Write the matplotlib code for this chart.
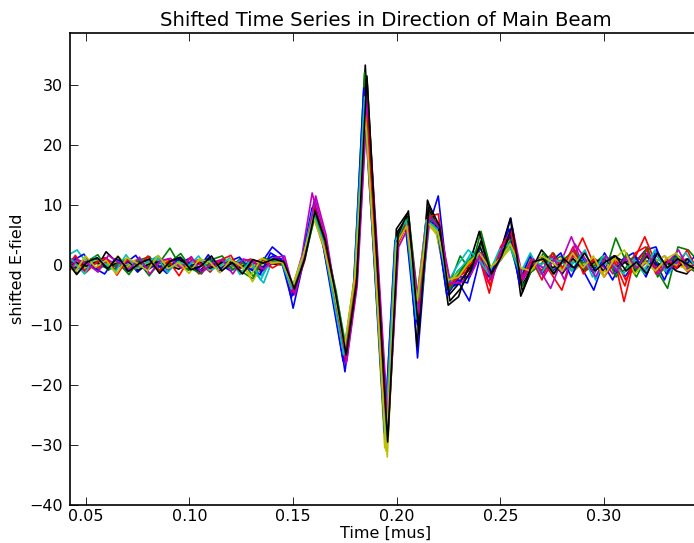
import numpy as np
import matplotlib
matplotlib.use("Agg")
import matplotlib.pyplot as plt

# sample times (mus), one sample every 0.005
t_start = 0.040
dt = 0.005

# small per-series time shift after alignment (mus)
shifts = [0.0, 0.0006, -0.0004, 0.0008, -0.0008, 0.0004, -0.0002,
          0.0002, -0.0006, 0.0004, -0.0004, 0.0006, -0.0008, 0.0002,
          -0.0009, 0.0008, 0.0, -0.0006, 0.0009, -0.0002, 0.0006]

colors = ["b", "g", "r", "c", "m", "y", "k"] * 3

# each series: early noise (0.040-0.140), pulse (0.145-0.260), tail (0.265-0.350)
s0 = [0.5, 1.2, -0.8, 0.3, 1.0, -0.5, 0.8, -1.2, 0.4, 1.5, -0.6, 0.2, 1.1, -0.9, 0.6, 0.0, -1.0, 0.8, -0.4, 0.5, 3.0,
      1.5, -7.2, 0.5, 10.5, 4.5, -6, -17.8, -4, 30, 1, -29, 3.5, 8, -15.5, 6, 11.5, -4, -3, -6, 1, -2, 2, 7.8, -3,
      0.5, -1.5, 1.0, -0.5, 2.0, -1.0, -4.2, 0.8, 1.5, -2.0, 0.5, 2.5, 3.0, -1.5, 0.5, 1.0, -0.8, 0.3]
s1 = [-0.5, 0.3, 1.0, -0.8, 0.2, 0.9, -0.3, 0.5, -1.8, 0.4, 2.8, -0.2, -0.8, 0.6, -0.5, 0.9, 0.2, -1.2, -2.3, 0.4, 1.2,
      0.5, -4, 1.5, 9, 3.5, -5, -16, -3, 31, 0, -28, 4, 7, -8, 8, 5, -3, 1.5, -1, 5.6, -1, 1, 4, -2,
      -1, 0.5, 2, -1, 0.5, 1, -0.5, -1, 4.5, 0.5, -2.0, 1.5, -1.0, -3.9, 3.0, 2.5, 0.5, -1.0]
s2 = [0.8, -0.4, 0.6, 1.2, -0.3, 0.4, -0.9, 0.7, 0.2, -0.6, 1.0, -0.3, 0.5, -1.5, 0.3, 0.8, -0.5, 0.4, 1.0, -0.8, 0.5,
      0.5, -5, 0, 8.5, 3, -6, -15, -2, 27, -1, -27, 3, 6.5, -7, 9, 6.5, -2.5, -2, 0.5, 1.5, -4.7, 2.5, 5, -1.5,
      -0.5, 1, -1.5, -4.2, 1, 4.5, 0.5, -1, 1.5, -6.1, 1, 4.7, 0.5, -1, 1.5, -0.5, 0.3, -1]
s3 = [1.5, 2.5, 0.2, -0.5, 0.8, 0.1, -0.7, 1.0, 0.3, -0.4, 0.6, 1.2, -0.5, 0.4, -0.2, 0.7, -0.9, 0.5, -1.0, -3.0, 1.5,
      0, -4, 1, 9, 4, -5, -14, -3, 28, 0, -28, 4.5, 8, -9, 7, 5, -3, -1, 2, 2.5, -2, 1.5, 3.5, -2,
      1, -0.5, 1.5, -1, 0.5, 2.5, -2.5, 1, -0.5, 1.5, -1, 0.5, 2, -1.5, 0.5, 1, -0.5, 0.8]
s4 = [-0.3, 0.6, -1.0, 0.5, 1.2, -0.2, 0.4, -0.6, 1.0, 0.2, -0.8, 0.5, 0.1, 0.9, -0.4, 0.3, 0.6, -0.5, 0.8, -1.2, 0.4,
      1, -4.5, 1.5, 12, 5, -5.5, -16, -4, 27, 0.5, -27, 3.5, 6, -7, 7.5, 5.5, -4, -2, -1, 1.5, -3, 2, 5, -3,
      0.5, -1, -3.9, 0.5, 4.7, 0.5, -1, 1, -1.5, 0.5, 1.2, -1, 0.5, 1.5, -0.8, 0.5, -0.3, 0.6]
s5 = [0.2, -0.5, 0.9, 0.3, -0.6, 1.5, -0.2, -0.8, 0.6, 0.0, 0.4, -0.5, 1.0, 0.2, -0.3, 0.5, -0.6, 0.3, -2.8, 0.2, 0.8,
      0.5, -3.5, 1, 8, 3.5, -4.5, -14, -2.5, 26, -1, -32, 3, 6, -6.5, 6.5, 5, -3, -2.5, -0.5, 1.5, -1, 1, 3, -1,
      0, 1, -0.5, 1.5, -1, 0.5, 1, -1, 0.5, 1, -0.5, 0.8, -1.5, 0.5, 1.5, 0.5, -0.5, 0.3]
s6 = [-1.0, -0.5, 0.5, -0.8, 2.2, 0.5, -0.3, 0.6, -0.5, 1.0, 0.0, -0.7, 0.3, -1.2, -0.4, 0.5, 0.2, -0.5, 0.5, -1.0, 0.2,
      0, -4, 1, 9.5, 4.5, -4.5, -15, -3, 33.3, 0.5, -29.7, 6, 8.5, -13.6, 10.8, 6, -6.7, -5.3, 0, 5.6, -1, 2, 7.8, -5.2,
      -1, 2.5, 0.5, -1.5, 1, -0.5, 0.8, -1, 1.5, 0.5, -1, 2, -0.5, 0.5, -1, -1.5, 0.5, 0.3]
s7 = [0.3, -0.6, 0.4, 1.0, -0.2, 0.6, -1.0, 0.3, 0.8, -0.3, 0.2, 1.0, -0.6, 0.4, 0.9, -0.5, 0.3, 0.6, -0.8, 0.4, 1.5,
      0.5, -5, 1, 10, 4, -5.5, -16.5, -3.5, 30, 0, -28.5, 4, 7.5, -9, 8.5, 6, -4.5, -2, -2, 2, -1.5, 1.5, 5, -2.5,
      0, 1.5, -1, 0.5, -0.5, 1, -1.5, 2, -1, 0.5, 1, -2, 2.5, -0.5, 1, -0.8, 0.4, 1]
s8 = [0.6, 0.0, -0.5, 0.8, 0.3, -0.7, 1.0, 0.2, -0.4, 0.6, -0.2, 0.5, -0.9, 0.3, 1.2, 0.0, -0.5, 1.0, -0.3, 0.3, 0.6,
      1, -4, 1, 9, 4, -5, -15.5, -3, 32, 0.5, -30, 4.5, 8, -8.5, 7.5, 6, -4, -1, 0.5, 2.5, -1.5, 1, 3.5, -2.5,
      1.5, -1, 0.5, 1.5, -1, 0.5, 0, 1.5, -0.5, -1, 1.5, 0.5, 1, -1, 1.5, 0.5, -1, 0.5]
s9 = [-0.4, 0.8, 0.2, -0.6, 0.5, -0.2, 1.1, -0.4, 0.7, -1.0, 0.3, 0.6, -0.3, 0.5, 0.0, -0.6, 0.9, -0.2, 0.4, -0.5, 0.3,
      0.5, -4.5, 0.5, 9, 4, -6, -16, -3.5, 28, 0, -28, 3.5, 7, -7.5, 8, 7, -3, -1.5, -1, 2, -2.5, 2, 5, -2,
      0.5, -1, 1, 0.5, 1.5, -0.5, 1, -0.5, 1, -2.5, 0.5, 2.5, -0.5, 0.5, 0.8, -1.2, 0.5, -0.5]
s10 = [0.5, 1.0, -0.3, 0.6, -0.5, 0.8, 0.2, -0.4, 0.5, 0.9, -0.6, 0.2, 0.4, -0.3, 0.6, 0.2, -0.4, 0.8, 0.1, -1.8, 0.7,
       0.5, -4, 1, 9, 4, -5, -15, -3, 29, 0, -29, 4, 7.5, -9.5, 7.5, 5.5, -3.5, -1, 1, 2, -1, 1.5, 4, -1.5,
       1, 0, 1.5, -1, 0.5, 1, -1, 0.5, -0.5, 1, 0.5, -1.5, 1, 0.5, 1.5, 0, 0.5, -0.5]
s11 = [0.0, -0.8, 0.6, 0.2, 0.9, -0.3, 0.5, 0.3, -0.6, 0.4, 0.8, -0.4, 0.6, 0.0, -0.5, 0.9, 0.1, -0.4, 0.3, -0.9, 0.6,
       1, -4.5, 1.5, 11, 4.5, -5.5, -16.5, -3.5, 29, 0.5, -27.5, 4, 7, -8, 8.5, 6.5, -3.5, -2.5, -0.5, 2, -2, 1.5, 5.5, -2.5,
       0.5, -0.5, 1.5, -1, 2, -0.5, 1, -0.5, 0, 1, -1, 0.5, 1.5, -1, 0.5, 1, -0.5, 0.3]
s12 = [0.4, 0.1, -0.6, 0.8, 0.0, 0.5, -0.5, 0.9, 0.3, -0.2, 0.7, 0.0, -0.4, 0.8, 0.2, -0.3, 0.5, 0.1, -0.5, 0.6, 0.3,
       0.5, -4, 1, 8.5, 4, -5, -15, -3, 28, 0, -30.5, 4, 7, -8, 7.5, 5, -3, -1.5, 0, 1.5, -1, 1.5, 4, -1.5,
       0, 1, 0.5, -0.5, 1, 0, 0.5, -1.5, 1, 0.5, 0, -0.5, 0.5, 1.5, 0, -0.5, 0.8, 0]
s13 = [-0.6, 0.4, -0.2, 0.5, -0.5, 0.3, 0.7, -0.9, 0.1, 0.5, -0.4, 0.9, -0.2, 0.4, -0.6, 0.3, 0.5, -0.3, 0.6, -0.4, 0.8,
       0.5, -4.5, 1, 9.5, 4, -5, -15.5, -3, 31, 0, -29, 5.5, 8, -10, 9.5, 5.5, -5, -3, -0.5, 3, -1.5, 1.5, 5.5, -3.5,
       -0.5, 1.5, -0.5, 0.5, 1, -1, 0.5, 1, -0.5, 0.5, -1, 1.5, 0, 0.5, -0.5, 1, -0.5, 0.3]
s14 = [-1.2, 0.8, 1.8, -0.5, -1.5, 1.0, 0.3, 1.6, -1.0, 0.2, -1.4, 1.2, 0.5, -0.8, 1.7, -1.1, 0.6, 1.3, -0.7, -1.6, 2.0,
       1, -5.5, 0.5, 9.5, 4, -6, -16, -4, 29.5, 0.5, -28, 4, 7, -10, 7, 7, -5, -2.5, -3, 2.5, -2, 1, 6, -3,
       1.5, -1.5, 0.5, 2, -2, 1.5, -1, 0.5, -2.5, 1, 2, -1, 1, -2.5, 1.5, 0, 1.5, -1]
s15 = [1.0, -1.4, 0.6, 1.7, -0.9, 0.3, -1.6, 0.8, 1.4, -1.2, 0.5, 1.9, -0.6, -1.5, 0.9, 1.5, -0.8, 0.4, -1.9, 1.2, 0.5,
       0, -4, 1.5, 8.5, 3.5, -4.5, -15, -2.5, 30, 0, -28.5, 4.5, 8, -7.5, 8.5, 6, -4, -1, 1, 3.5, -2, 2, 4.5, -3.5,
       -0.5, 2, -1.5, 1, 2.5, -1, 0, 1.5, -2, 2, -1, 3, -2, 0.5, 1.5, -0.5, -1.5, 1]
s16 = [-0.8, 1.6, -1.3, 0.4, 1.2, -1.7, 0.9, -0.4, 1.5, -1.0, 0.7, -1.8, 1.1, 0.3, -1.2, 0.8, 1.6, -1.4, 0.2, 1.0, -0.5,
       0.5, -4.5, 1, 10, 4.5, -5, -15.5, -3, 28.5, 0.5, -28, 3.5, 7, -8.5, 8, 8.5, -3.5, -2, 0, 1.5, -3.5, 3, 5.5, -2.5,
       1, -2.5, 2, -0.5, 3, -1.5, 1, -2, 0.5, -3.5, 2, 3, -1.5, 1, -0.5, 2.5, -1, 0.5]
s17 = [2.0, 0.5, -1.5, 1.3, 0.2, -1.1, 1.7, -0.6, 0.4, 1.4, -1.3, 0.6, -0.2, 1.5, -0.9, -0.3, 1.2, -1.6, 0.8, -2.5, 1.0,
       0.5, -4, 0.5, 9, 4, -5.5, -15, -3, 28, 0, -29, 4, 7.5, -9, 7.5, 6, -3, 0, 2.5, 1, -1.5, 2.5, 3.5, -1.5,
       2, -1.5, 1, 0.5, -1, 2, -2, 1.5, 0, -1.5, 1, -1, 2.5, -1, 0.5, 2, -0.5, 1]
s18 = [-1.5, 0.9, 0.2, -1.2, 1.6, 0.4, -0.8, 1.3, -1.5, 0.7, 1.1, -0.5, 1.4, -1.3, 0.3, 0.9, -1.5, 1.0, 0.5, -0.7, 1.2,
       1.5, -5, 2, 11.5, 5, -6, -16, -3.5, 28, 1, -27, 3, 6.5, -8, 8, 6, -3, -3, -1.5, 2, -2.5, 3, 6, -2.5,
       1, -2, 1, -2.5, 3.5, 1, -2, 1.5, -1, 1.5, -0.5, 2, -1.5, 0.5, 2.5, -1, 1, -0.5]
s19 = [0.6, -1.2, 1.5, -0.4, 0.8, -1.5, 1.2, 0.3, -1.0, 1.6, -0.6, 0.4, -1.4, 1.0, 0.5, -1.3, 0.9, -0.2, -1.7, 1.1, 0.4,
       0.5, -3.5, 1.5, 8, 3, -4.5, -13.5, -2, 25, -1, -31, 3.5, 6.5, -6, 7, 5.5, -2.5, -2, 0.5, 2, -0.5, 1, 3.5, -0.5,
       -1, 1.5, 0.5, -1, 2, -0.5, 1.5, -2, 1, 2.5, -1.5, 0.5, -1, 1, 2, -1, 0, 1.5]
s20 = [0.8, -1.6, 0.5, 1.2, -0.7, 1.4, -1.1, 0.2, 1.0, -1.4, 0.6, 1.3, -0.8, -0.2, 1.5, -1.0, 0.4, -1.5, 0.9, 0.3, 1.0,
       0.5, -4, 1, 9, 4, -5, -15, -3, 31.5, 0, -29.5, 5, 9, -11.5, 10, 6.5, -6, -4, -1, 4, -1.5, 1.5, 6.5, -4.5,
       0.5, 1, -1.5, 1, -0.5, 2, -1, 0.5, 1.5, -1, 0.5, -1.5, 2, -0.5, 1, 0, -1, 0.5]

series = [s0, s1, s2, s3, s4, s5, s6, s7, s8, s9, s10,
          s11, s12, s13, s14, s15, s16, s17, s18, s19, s20]

fig = plt.figure(figsize=(6.94, 5.43), dpi=100)
ax = fig.add_axes([70 / 694, 38 / 543, 632 / 694, 472.3 / 543])

for vals, c, sh in zip(series, colors, shifts):
    t = t_start + sh + dt * np.arange(len(vals))
    ax.plot(t, vals, color=c, lw=1.2)

ax.set_xlim(0.0424, 0.3472)
ax.set_ylim(-40, 38.7)
ax.set_xticks([0.05, 0.10, 0.15, 0.20, 0.25, 0.30])
ax.set_xticklabels(["0.05", "0.10", "0.15", "0.20", "0.25", "0.30"])
ax.set_yticks([-40, -30, -20, -10, 0, 10, 20, 30])
ax.tick_params(direction="in", length=6, width=0.6, labelsize=11.5,
               top=True, right=True)
ax.tick_params(axis="x", pad=3)
ax.tick_params(axis="y", pad=5)
for sp in ax.spines.values():
    sp.set_linewidth(1.2)

ax.set_title("Shifted Time Series in Direction of Main Beam", fontsize=14.2, pad=5)
ax.set_xlabel("Time [mus]", fontsize=11.5)
ax.set_ylabel("shifted E-field", fontsize=11.5)
ax.xaxis.set_label_coords(0.5, -0.044)
ax.yaxis.set_label_coords(-0.071, 0.5)

fig.savefig("out.png", dpi=100)
